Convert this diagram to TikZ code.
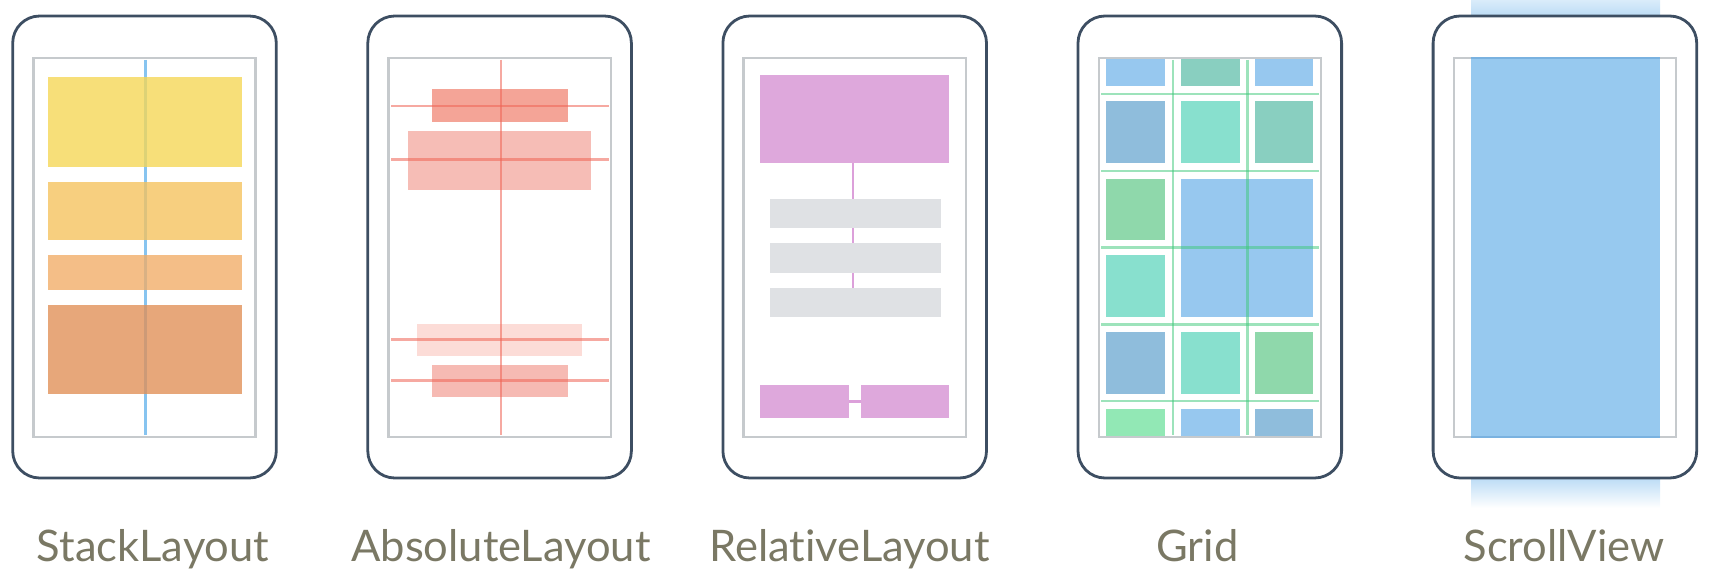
\documentclass[tikz,border=0pt]{standalone}
\usepackage{fontspec}
\setmainfont{Lato}[Ligatures={NoCommon,NoRare,NoContextual}]
\definecolor{phoneline}{RGB}{61,78,98}
\definecolor{screenline}{RGB}{198,202,205}
\definecolor{lblcol}{RGB}{122,120,100}
\definecolor{stackblue}{RGB}{135,196,240}
\definecolor{yel1}{RGB}{246,215,84}
\definecolor{org1}{RGB}{246,194,92}
\definecolor{org2}{RGB}{241,172,102}
\definecolor{org3}{RGB}{225,143,85}
\definecolor{redline}{RGB}{240,100,85}
\definecolor{redA}{RGB}{244,164,151}
\definecolor{redB}{RGB}{246,189,182}
\definecolor{redC}{RGB}{252,220,215}
\definecolor{redD}{RGB}{246,186,179}
\definecolor{pinkbox}{RGB}{222,168,220}
\definecolor{pinkline}{RGB}{220,160,218}
\definecolor{graybox}{RGB}{223,225,228}
\definecolor{gblue}{RGB}{151,200,239}
\definecolor{gteal}{RGB}{137,207,192}
\definecolor{gsteel}{RGB}{143,189,220}
\definecolor{gaqua}{RGB}{136,224,206}
\definecolor{ggreen}{RGB}{143,216,171}
\definecolor{glgreen}{RGB}{146,232,181}
\definecolor{gridline}{RGB}{60,200,120}
\definecolor{scrollblue}{RGB}{151,201,239}
\definecolor{scrolledge}{RGB}{122,178,224}
\definecolor{fadeblue}{RGB}{186,219,245}
\definecolor{fadetop}{RGB}{218,236,250}
\tikzset{
  phone/.style={draw=phoneline, line width=2.8pt, rounded corners=27pt, fill=white},
  screen/.style={draw=screenline, line width=2.4pt},
  lbl/.style={anchor=base, text=lblcol, inner sep=0pt, font=\fontsize{43.5}{50}\selectfont},
  stackbox/.style={fill opacity=0.78},
  redbar/.style={draw=redline, draw opacity=0.55, line width=2.5pt},
  gline/.style={draw=gridline, draw opacity=0.5, line width=2.5pt},
}
\begin{document}
\begin{tikzpicture}[x=1pt,y=-1pt]
\useasboundingbox (0,0) rectangle (1716,578);
% ScrollView fades (behind phone 5)
\shade[top color=fadetop, bottom color=fadeblue] (1471,0) rectangle (1660,17);
\shade[top color=fadeblue, bottom color=white] (1471,477) rectangle (1660,508);

% ---------- phone 1: StackLayout
\draw[phone] (12.7,16) rectangle (276.3,478);
\draw[screen] (33.4,58.3) rectangle (255.6,436.7);
\draw[stackblue, line width=2.6pt] (145.7,60) -- (145.7,435);
\fill[yel1, stackbox] (48.3,77.3) rectangle (242,166.7);
\fill[org1, stackbox] (48.3,182) rectangle (242,240);
\fill[org2, stackbox] (48.3,255) rectangle (242,290);
\fill[org3, stackbox] (48.3,305) rectangle (242,394.3);
\node[lbl] (l1) at (153,561.7) {StackLayout};

% ---------- phone 2: AbsoluteLayout
\draw[phone] (367.8,16) rectangle (631.4,478);
\draw[screen] (388.5,58.3) rectangle (610.7,436.7);
\fill[redA] (432,89.3) rectangle (567.7,121.7);
\fill[redB] (408.3,131.3) rectangle (591.3,190);
\fill[redC] (416.7,324) rectangle (582,355.7);
\fill[redD] (432,365) rectangle (567.7,396.7);
\draw[redbar] (501,60) -- (501,435);
\draw[redbar] (391,106) -- (609,106);
\draw[redbar] (391,159.3) -- (609,159.3);
\draw[redbar] (391,339.3) -- (609,339.3);
\draw[redbar] (391,380.7) -- (609,380.7);
\node[lbl] (l2) at (501,561.7) {AbsoluteLayout};

% ---------- phone 3: RelativeLayout
\draw[phone] (722.9,16) rectangle (986.5,478);
\draw[screen] (743.6,58.3) rectangle (965.8,436.7);
\draw[pinkline, line width=2.2pt] (853.3,163) -- (853.3,289);
\fill[pinkbox] (760,75.3) rectangle (949,163.3);
\fill[graybox] (770,199) rectangle (940.7,228.3);
\fill[graybox] (770,243.3) rectangle (940.7,272.7);
\fill[graybox] (770,288.3) rectangle (940.7,316.7);
\draw[pinkline, line width=3pt] (848,401) -- (862,401);
\fill[pinkbox] (760,385) rectangle (848.7,417.7);
\fill[pinkbox] (861,385) rectangle (949,417.7);
\node[lbl] (l3) at (849.5,561.7) {RelativeLayout};

% ---------- phone 4: Grid
\draw[phone] (1078,16) rectangle (1341.6,478);
\begin{scope}
\clip (1099.2,59.5) rectangle (1320.2,435.5);
% row 0
\fill[gblue]  (1106,24.2) rectangle (1165.3,86);
\fill[gteal]  (1180.7,24.2) rectangle (1239.7,86);
\fill[gblue]  (1255,24.2) rectangle (1313.3,86);
% row 1
\fill[gsteel] (1106,101) rectangle (1165.3,163.3);
\fill[gaqua]  (1180.7,101) rectangle (1239.7,163.3);
\fill[gteal]  (1255,101) rectangle (1313.3,163.3);
% row 2-3
\fill[ggreen] (1106,178.7) rectangle (1165.3,240);
\fill[gblue]  (1180.7,178.7) rectangle (1313.3,316.7);
\fill[gaqua]  (1106,255.3) rectangle (1165.3,316.7);
% row 4
\fill[gsteel] (1106,332.3) rectangle (1165.3,394);
\fill[gaqua]  (1180.7,332.3) rectangle (1239.7,394);
\fill[ggreen] (1255,332.3) rectangle (1313.3,394);
% row 5
\fill[glgreen] (1106,408.7) rectangle (1165.3,470);
\fill[gblue]   (1180.7,408.7) rectangle (1239.7,470);
\fill[gsteel]  (1255,408.7) rectangle (1313.3,470);
\end{scope}
\draw[gline] (1101,94) -- (1319.3,94);
\draw[gline] (1101,171) -- (1319.3,171);
\draw[gline] (1101,247.3) -- (1319.3,247.3);
\draw[gline] (1101,324.3) -- (1319.3,324.3);
\draw[gline] (1101,401) -- (1319.3,401);
\draw[gline] (1173,60) -- (1173,435);
\draw[gline] (1247.3,60) -- (1247.3,435);
\draw[screen] (1098.7,58.3) rectangle (1320.9,436.7);
\node[lbl] (l4) at (1197.5,561.7) {Grid};

% ---------- phone 5: ScrollView
\draw[phone] (1433.1,16) rectangle (1696.7,478);
\draw[screen] (1453.8,58.3) rectangle (1676,436.7);
\fill[scrollblue] (1471,57.2) rectangle (1660,437.9);
\draw[scrolledge, line width=2.4pt] (1471,58.3) -- (1660,58.3);
\draw[scrolledge, line width=2.4pt] (1471,436.7) -- (1660,436.7);
\node[lbl] (l5) at (1564,561.7) {ScrollView};
\end{tikzpicture}
\end{document}
